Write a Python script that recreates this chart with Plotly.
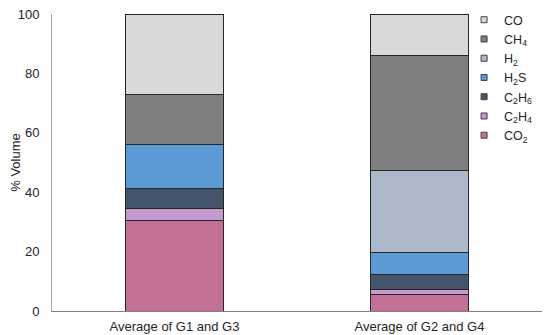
import plotly.graph_objects as go

categories = ["Average of G1 and G3", "Average of G2 and G4"]
gases = ["CO<sub>2</sub>", "C<sub>2</sub>H<sub>4</sub>", "C<sub>2</sub>H<sub>6</sub>",
         "H<sub>2</sub>S", "H<sub>2</sub>", "CH<sub>4</sub>", "CO"]
co2 = [30.6, 5.6]
c2h4 = [4.0, 1.7]
c2h6 = [6.5, 5.1]
h2s = [14.8, 7.2]
h2 = [0.0, 27.6]
ch4 = [16.9, 38.8]
co = [27.2, 14.0]
series = [co2, c2h4, c2h6, h2s, h2, ch4, co]
colors = ["#c27096", "#c49acf", "#44546a", "#5b9bd5", "#adb9ca", "#7f7f7f", "#d9d9d9"]
y_ticks = [0, 20, 40, 60, 80, 100]

fig = go.Figure()
for name, vals, col in zip(gases, series, colors):
    fig.add_trace(go.Bar(
        x=categories, y=vals, name=name, legendgroup=name, showlegend=False,
        marker=dict(color=col, line=dict(color="#262626", width=1)),
    ))
    fig.add_trace(go.Scatter(
        x=[None], y=[None], mode="markers", name=name, legendgroup=name,
        marker=dict(symbol="square", size=6, color=col, line=dict(color="#404040", width=1)),
    ))

fig.update_layout(
    width=542, height=327,
    barmode="stack", bargap=0.6,
    paper_bgcolor="white", plot_bgcolor="white",
    margin=dict(l=44, r=8, t=6, b=24, autoexpand=False),
    font=dict(family="Liberation Sans, Arial, sans-serif", size=13, color="#262626"),
    showlegend=True,
    legend=dict(
        x=0.841, y=1.03, xanchor="left", yanchor="top",
        traceorder="reversed", bgcolor="rgba(0,0,0,0)",
        font=dict(size=12.5, color="#262626"), itemwidth=30,
        tracegroupgap=0,
    ),
    xaxis=dict(
        showline=True, linecolor="#808080", linewidth=1, automargin=False,
        showgrid=False, ticks="", tickfont=dict(size=13), ticklabelstandoff=3,
    ),
    yaxis=dict(
        range=[0, 100], tickvals=y_ticks, showline=True, linecolor="#a6a6a6",
        linewidth=1, showgrid=False, ticks="", zeroline=False, automargin=True,
        tickfont=dict(size=13), ticklabelstandoff=9, ticklabeloverflow="allow",
        title=dict(text="% Volume", font=dict(size=13), standoff=12),
    ),
)

fig.write_html("out.html")
